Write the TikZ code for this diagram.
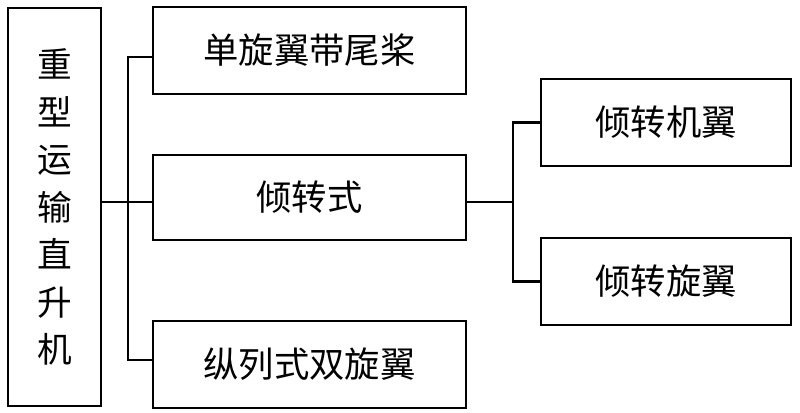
\documentclass[tikz,border=0pt]{standalone}
\usepackage{fontspec}
\newfontfamily\cjk{Noto Sans CJK SC}
\begin{document}
\begin{tikzpicture}[x=0.75pt,y=-0.75pt,
  box/.style={draw=black,line width=2.2pt,rectangle,inner sep=0pt,font=\cjk\fontsize{26.5}{30}\selectfont},
  conn/.style={draw=black,line width=2.2pt,line join=miter}]
\useasboundingbox (0,0) rectangle (800,412);
\node[box,minimum width=93*0.75pt,minimum height=398*0.75pt,align=center,font=\cjk\fontsize{26}{35.6}\selectfont] (root) at (54.5,207) {重\\型\\运\\输\\直\\升\\机};
\node[box,minimum width=313*0.75pt,minimum height=87*0.75pt] (b1) at (309.5,50.5) {单旋翼带尾桨};
\node[box,minimum width=313*0.75pt,minimum height=85*0.75pt] (b2) at (309.5,197.5) {倾转式};
\node[box,minimum width=313*0.75pt,minimum height=87*0.75pt] (b3) at (309.5,364.5) {纵列式双旋翼};
\node[box,minimum width=250*0.75pt,minimum height=87*0.75pt] (r1) at (666,122.5) {倾转机翼};
\node[box,minimum width=250*0.75pt,minimum height=87*0.75pt] (r2) at (666,281.5) {倾转旋翼};
\coordinate (j1) at (128,57);
\coordinate (jr) at (128,202);
\coordinate (j3) at (128,360);
\coordinate (k) at (513,202);
\draw[conn] (b1.west |- j1) -- (j1) -- (j3) -- (b3.west |- j3);
\draw[conn] (root.east |- jr) -- (b2.west |- jr);
\draw[conn] (b2.east |- k) -- (k);
\draw[conn] (r1.west) -| (k) |- (r2.west);
\end{tikzpicture}
\end{document}
